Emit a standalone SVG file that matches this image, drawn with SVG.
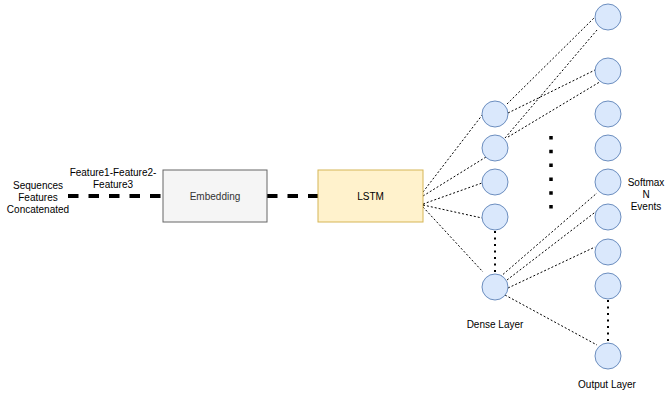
<svg xmlns="http://www.w3.org/2000/svg" width="665" height="398" viewBox="0 0 665 398">
<style>
text{font-family:"Liberation Sans",Arial,sans-serif;font-size:10px;fill:#000;text-anchor:middle}
.n{fill:#dae8fc;stroke:#6c8ebf;stroke-width:1}
.thin{stroke:#000;stroke-width:1;stroke-dasharray:2 2;fill:none}
.thick{stroke:#000;stroke-width:4;stroke-dasharray:10.5 10;fill:none}
.vdot{stroke:#000;stroke-width:2;stroke-dasharray:2 4.5;fill:none}
</style>
<rect width="665" height="398" fill="#fff"/>
<g id="connectors">
<line class="thick" x1="68" y1="196" x2="163" y2="196"/>
<line class="thick" x1="267" y1="196" x2="318" y2="196"/>
<line class="thin" x1="423" y1="192" x2="483" y2="114"/>
<line class="thin" x1="423" y1="196" x2="486" y2="157"/>
<line class="thin" x1="423" y1="204" x2="482" y2="183"/>
<line class="thin" x1="423" y1="205" x2="482" y2="218"/>
<line class="thin" x1="423" y1="207" x2="483" y2="272"/>
<circle cx="423" cy="205" r="1.3" fill="#000"/>
<line class="thin" x1="507" y1="104" x2="595" y2="17"/>
<line class="thin" x1="505" y1="138" x2="597" y2="30"/>
<line class="thin" x1="508" y1="113" x2="595" y2="70"/>
<line class="thin" x1="508" y1="137" x2="603" y2="80"/>
<line class="thin" x1="500" y1="277" x2="597" y2="193"/>
<line class="thin" x1="507" y1="280" x2="598" y2="210"/>
<line class="thin" x1="508" y1="288" x2="595" y2="247"/>
<line class="thin" x1="505" y1="295" x2="597" y2="345"/>
<line class="vdot" x1="495" y1="231" x2="495" y2="274"/>
<line class="vdot" x1="608" y1="300" x2="608" y2="343"/>
<line stroke="#000" stroke-width="3.5" stroke-dasharray="3.5 10.3" x1="551" y1="136" x2="551" y2="210"/>
</g>
<g id="embedding">
<rect x="163" y="170" width="104" height="52" fill="#f5f5f5" stroke="#666666"/>
<text x="215" y="200" style="fill:#333333">Embedding</text>
</g>
<g id="lstm">
<rect x="318" y="170" width="105" height="52" fill="#fff2cc" stroke="#d6b656"/>
<text x="370.5" y="200">LSTM</text>
</g>
<g id="input-label">
<text x="38" y="189">Sequences</text>
<text x="38" y="201">Features</text>
<text x="38" y="213">Concatenated</text>
</g>
<g id="edge-label">
<text x="113" y="176">Feature1-Feature2-</text>
<text x="113" y="188">Feature3</text>
</g>
<g id="dense-layer">
<circle class="n" cx="495" cy="114" r="13"/>
<circle class="n" cx="495" cy="148" r="13"/>
<circle class="n" cx="495" cy="182" r="13"/>
<circle class="n" cx="495" cy="217" r="13"/>
<circle class="n" cx="495" cy="287" r="13"/>
<text x="495" y="328">Dense Layer</text>
</g>
<g id="output-layer">
<circle class="n" cx="608" cy="17" r="13"/>
<circle class="n" cx="608" cy="71" r="13"/>
<circle class="n" cx="608" cy="114" r="13"/>
<circle class="n" cx="608" cy="148" r="13"/>
<circle class="n" cx="608" cy="182" r="13"/>
<circle class="n" cx="608" cy="217" r="13"/>
<circle class="n" cx="608" cy="252" r="13"/>
<circle class="n" cx="608" cy="286" r="13"/>
<circle class="n" cx="608" cy="356" r="13"/>
<text x="607" y="388">Output Layer</text>
</g>
<g id="softmax-label">
<text x="646" y="186">Softmax</text>
<text x="646" y="198">N</text>
<text x="646" y="210">Events</text>
</g>
</svg>
